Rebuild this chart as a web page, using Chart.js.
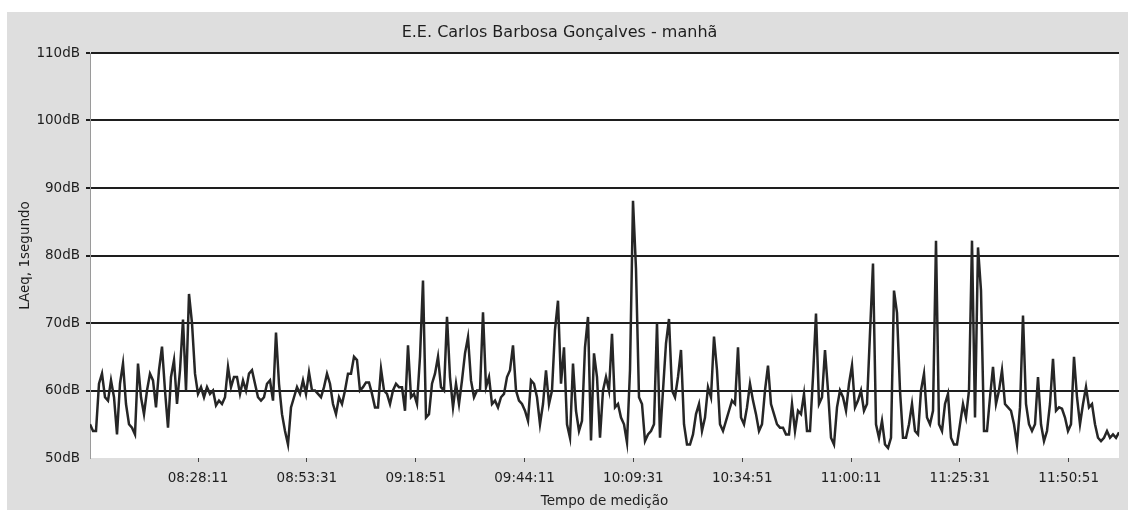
<!DOCTYPE html>
<html>
<head>
<meta charset="utf-8">
<script src="https://cdn.jsdelivr.net/npm/chart.js@4/dist/chart.umd.min.js"></script>
<style>
  body { margin: 0; background: #fff; }
  #wrap { width: 1128px; height: 510px; }
</style>
</head>
<body>
<div id="wrap"><canvas id="soundChart" width="1128" height="510"></canvas></div>
<script>
const chartTitle = 'E.E. Carlos Barbosa Gonçalves - manhã';
const yTitle = 'LAeq, 1segundo';
const xTitle = 'Tempo de medição';

// time ticks shown under the plot
const timeTicks = ['08:28:11', '08:53:31', '09:18:51', '09:44:11', '10:09:31',
    '10:34:51', '11:00:11', '11:25:31', '11:50:51'];
const dbTicks = [50, 60, 70, 80, 90, 100, 110];

// readings taken off the trace, one every sampleStep seconds
const sampleStart = '08:03:02';
const sampleStep = 41.9;
const laeq = [
    55, 54, 54, 61, 62.5, 59, 58.5, 61.5, 59, 53.5,
    61, 64, 58, 55, 54.5, 53.5, 64, 59, 56.5, 60,
    62.5, 61.5, 57.5, 63, 66.5, 60, 54.5, 62, 64.5, 58,
    63, 70.5, 60, 74.3, 70, 62.5, 59.5, 60.5, 59, 60.5,
    59.5, 60, 57.8, 58.5, 58, 59, 63.5, 60.5, 62, 62,
    59.5, 61.5, 60, 62.5, 63, 61, 59, 58.5, 59, 61,
    61.5, 58.5, 68.6, 61, 56.5, 54, 52, 57.5, 59, 60.5,
    59.5, 61.5, 59.5, 62.7, 60, 60, 59.5, 59, 60.5, 62.5,
    61, 58, 56.5, 59, 58, 60, 62.5, 62.5, 65, 64.5,
    60, 60.5, 61.2, 61.2, 59.5, 57.5, 57.5, 63.2, 60, 59.5,
    58, 60, 61, 60.5, 60.5, 57, 66.7, 59, 59.5, 58,
    65, 76.3, 56, 56.5, 61, 62.5, 65, 60.5, 60, 70.9,
    62, 57.5, 61, 58, 61.5, 65.5, 67.9, 61.5, 59, 60,
    60, 71.6, 60.5, 62, 58, 58.5, 57.5, 59, 59.5, 62,
    63, 66.7, 60, 58.5, 58, 57, 55.5, 61.5, 61, 59,
    55, 58, 63, 58, 60, 69, 73.3, 61, 66.4, 55,
    53, 64, 57, 54, 55.5, 66.4, 70.9, 52.6, 65.5, 62,
    53, 60, 62, 60, 68.4, 57.5, 58, 56, 55, 52.3,
    63, 88.1, 78, 59, 58, 52.5, 53.5, 54, 55, 70,
    53, 60, 67, 70.6, 60, 59, 62, 66, 55, 52,
    52, 53.5, 56.5, 58, 54, 56, 60.5, 59, 68, 63,
    55, 54, 55.5, 57, 58.5, 58, 66.4, 56, 55, 57.5,
    61, 58.5, 56.5, 54, 55, 60, 63.7, 58, 56.5, 55,
    54.5, 54.5, 53.5, 53.5, 58, 54, 57, 56.5, 59.5, 54,
    54, 62, 71.4, 58, 59, 66, 60, 53, 52, 57.5,
    60, 59, 57, 61, 63.7, 57.5, 58.5, 60, 57, 58,
    68.5, 78.8, 55, 53, 55.5, 52, 51.5, 53, 74.8, 71.5,
    60, 53, 53, 55, 58, 54, 53.5, 60, 62.5, 56,
    55, 57, 82.2, 55, 54, 58, 59.5, 53, 52, 52,
    55, 58, 56, 60, 82.2, 56, 81.2, 74.8, 54, 54,
    59, 63.5, 58, 60, 63, 58, 57.5, 57, 55, 52,
    57.5, 71.1, 58, 55, 54, 55, 62, 55, 52.5, 54,
    58, 64.7, 57, 57.5, 57.3, 56, 54, 55, 65, 59,
    55, 58, 60.5, 57.5, 58, 55, 53, 52.5, 53, 54,
    53, 53.5, 53, 53.8
];

function toSec(s) {
    const p = s.split(':').map(Number);
    return p[0] * 3600 + p[1] * 60 + p[2];
}
function toClock(v) {
    v = Math.round(v);
    const h = Math.floor(v / 3600), m = Math.floor(v / 60) % 60, s = v % 60;
    return [h, m, s].map(n => String(n).padStart(2, '0')).join(':');
}

const t0 = toSec(sampleStart);
const points = laeq.map((v, i) => ({x: t0 + i * sampleStep, y: v}));

const frame = {
    id: 'frame',
    beforeDraw(chart) {
        const {ctx, chartArea} = chart;
        ctx.save();
        ctx.fillStyle = '#ffffff';
        ctx.fillRect(0, 0, chart.width, chart.height);
        ctx.fillStyle = '#dedede';
        ctx.fillRect(7, 12, chart.width - 7, chart.height - 12);
        ctx.fillStyle = '#ffffff';
        ctx.fillRect(chartArea.left, chartArea.top, chartArea.right - chartArea.left, chartArea.bottom - chartArea.top);
        ctx.restore();
    }
};

const font = {family: 'DejaVu Sans', size: 13.5};

const config = {
    type: 'line',
    data: {
        datasets: [{
            label: yTitle,
            data: points,
            borderColor: '#262626',
            borderWidth: 2.5,
            pointRadius: 0,
            tension: 0,
            fill: false
        }]
    },
    options: {
        responsive: false,
        animation: false,
        devicePixelRatio: 1,
        layout: {padding: {left: 0, right: 9, top: 0, bottom: 0}},
        plugins: {
            legend: {display: false},
            tooltip: {enabled: false},
            title: {
                display: true,
                text: chartTitle,
                color: '#1e1e1e',
                font: {family: 'DejaVu Sans', size: 16, weight: 'normal'},
                padding: {top: 23, bottom: 10.8}
            }
        },
        scales: {
            x: {
                type: 'linear',
                min: t0,
                max: t0 + (laeq.length - 1) * sampleStep,
                afterFit(scale) { scale.height = 52; },
                afterBuildTicks(scale) {
                    scale.ticks = timeTicks.map(s => ({value: toSec(s)}));
                },
                ticks: {
                    color: '#1e1e1e',
                    font: font,
                    padding: 8,
                    maxRotation: 0,
                    autoSkip: false,
                    callback: v => toClock(v)
                },
                grid: {
                    drawOnChartArea: false,
                    drawTicks: true,
                    tickLength: 4,
                    color: '#444',
                    lineWidth: 1
                },
                border: {display: false},
                title: {
                    display: true,
                    text: xTitle,
                    color: '#1e1e1e',
                    font: font,
                    padding: {top: 0, bottom: 0}
                }
            },
            y: {
                min: dbTicks[0],
                max: dbTicks[dbTicks.length - 1],
                afterFit(scale) { scale.width = 90; },
                afterBuildTicks(scale) {
                    scale.ticks = dbTicks.map(v => ({value: v}));
                },
                ticks: {
                    color: '#1e1e1e',
                    font: font,
                    padding: 6,
                    callback: v => v + 'dB'
                },
                grid: {
                    drawTicks: true,
                    tickLength: 4,
                    lineWidth: 2,
                    color: ctx => ctx.tick && ctx.tick.value === dbTicks[0] ? 'rgba(0,0,0,0)' : '#1e1e1e'
                },
                border: {display: true, color: '#9a9a9a', width: 1},
                title: {
                    display: true,
                    text: yTitle,
                    color: '#1e1e1e',
                    font: font,
                    padding: {top: 17, bottom: 0}
                }
            }
        }
    },
    plugins: [frame]
};

const soundChart = new Chart(document.getElementById('soundChart'), config);
</script>
</body>
</html>
